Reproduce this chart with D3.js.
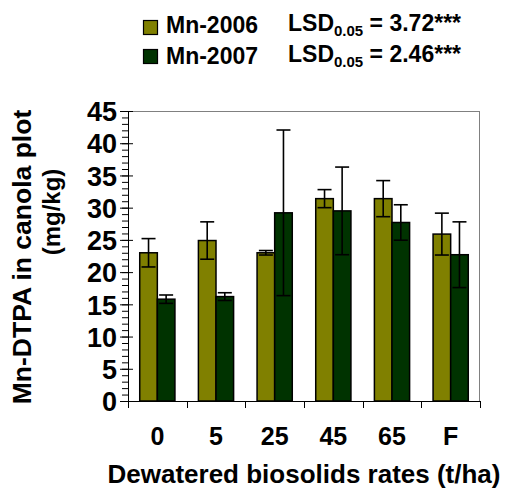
<!DOCTYPE html>
<html>
<head>
<meta charset="utf-8">
<script src="https://cdn.jsdelivr.net/npm/d3@7"></script>
<style>
  html, body { margin: 0; padding: 0; background: #fff; }
  svg { display: block; font-family: "Liberation Sans", Arial, Helvetica, sans-serif; font-weight: bold; }
</style>
</head>
<body>
<svg id="chart" width="506" height="494"></svg>
<script>
// Mn-DTPA in canola plot soil by biosolids rate, two seasons
const categories = ["0", "5", "25", "45", "65", "F"];
const seriesNames = ["Mn-2006", "Mn-2007"];
const mn2006 = [23.0, 24.9, 23.0, 31.4, 31.4, 25.9];
const mn2006Err = [2.2, 2.9, 0.35, 1.4, 2.8, 3.25];
const mn2007 = [15.8, 16.2, 29.2, 29.5, 27.7, 22.7];
const mn2007Err = [0.65, 0.6, 12.85, 6.8, 2.75, 5.1];
const lsdLabels = ["3.72***", "2.46***"];
const yTicks = [0, 5, 10, 15, 20, 25, 30, 35, 40, 45];
const colors = ["#808000", "#003300"];

const svg = d3.select("#chart");
const plot = { left: 128, right: 480, top: 111, bottom: 401 };

const x0 = d3.scaleBand().domain(categories).range([plot.left, plot.right]).padding(0);
const barW = x0.bandwidth() * 0.3;
const x1 = d3.scaleBand().domain(seriesNames)
  .range([(x0.bandwidth() - 2 * barW) / 2, (x0.bandwidth() + 2 * barW) / 2]).padding(0);
const y = d3.scaleLinear().domain([0, 45]).range([plot.bottom, plot.top]);

const rows = categories.map((c, i) => ({
  cat: c,
  vals: [
    { s: seriesNames[0], v: mn2006[i], e: mn2006Err[i], col: colors[0] },
    { s: seriesNames[1], v: mn2007[i], e: mn2007Err[i], col: colors[1] }
  ]
}));

// Plot frame: light top/right edges
svg.append("line").attr("x1", plot.left).attr("x2", plot.right)
  .attr("y1", plot.top + 0.5).attr("y2", plot.top + 0.5)
  .attr("stroke", "#808080").attr("stroke-width", 1);
svg.append("line").attr("x1", plot.right - 0.5).attr("x2", plot.right - 0.5)
  .attr("y1", plot.top).attr("y2", plot.bottom)
  .attr("stroke", "#808080").attr("stroke-width", 1);

// Bars
const groups = svg.append("g").selectAll("g").data(rows).join("g")
  .attr("transform", d => `translate(${x0(d.cat)},0)`);

groups.selectAll("rect").data(d => d.vals).join("rect")
  .attr("x", d => x1(d.s))
  .attr("y", d => y(d.v))
  .attr("width", x1.bandwidth())
  .attr("height", d => y(0) - y(d.v))
  .attr("fill", d => d.col)
  .attr("stroke", "#000")
  .attr("stroke-width", 1.5);

// Error bars
const capHalf = 7;
const eb = groups.selectAll("g.err").data(d => d.vals).join("g").attr("class", "err")
  .attr("stroke", "#000").attr("stroke-width", 1.6);
eb.append("line")
  .attr("x1", d => x1(d.s) + x1.bandwidth() / 2).attr("x2", d => x1(d.s) + x1.bandwidth() / 2)
  .attr("y1", d => y(d.v + d.e)).attr("y2", d => y(d.v - d.e));
eb.append("line")
  .attr("x1", d => x1(d.s) + x1.bandwidth() / 2 - capHalf).attr("x2", d => x1(d.s) + x1.bandwidth() / 2 + capHalf)
  .attr("y1", d => y(d.v + d.e)).attr("y2", d => y(d.v + d.e));
eb.append("line")
  .attr("x1", d => x1(d.s) + x1.bandwidth() / 2 - capHalf).attr("x2", d => x1(d.s) + x1.bandwidth() / 2 + capHalf)
  .attr("y1", d => y(d.v - d.e)).attr("y2", d => y(d.v - d.e));

// Y axis: minor ticks every unit, major ticks crossing the axis
const yMinor = d3.axisLeft(y).tickValues(d3.range(0, 46, 1)).tickSize(6).tickFormat("");
const gMinor = svg.append("g").attr("transform", `translate(${plot.left},0)`).call(yMinor);
gMinor.select(".domain").remove();
gMinor.selectAll("line").attr("stroke", "#000");

const yAxis = d3.axisLeft(y).tickValues(yTicks).tickSizeInner(8).tickSizeOuter(0).tickPadding(3);
const gY = svg.append("g").attr("transform", `translate(${plot.left},0)`).call(yAxis);
gY.select(".domain").attr("stroke", "#000");
gY.selectAll(".tick line").attr("x2", 5).attr("x1", -8).attr("stroke", "#000");
gY.selectAll(".tick text").attr("x", -11).attr("dy", "0.36em")
  .style("font-size", "27px").style("font-family", "Liberation Sans, Arial, sans-serif")
  .style("font-weight", "bold").attr("fill", "#000");

// X axis: ticks at category boundaries
const xAxis = d3.axisBottom(x0).tickSize(0).tickPadding(26);
const gX = svg.append("g").attr("transform", `translate(0,${plot.bottom})`).call(xAxis);
gX.select(".domain").attr("stroke", "#000");
gX.selectAll(".tick text")
  .style("font-size", "25px").style("font-family", "Liberation Sans, Arial, sans-serif")
  .style("font-weight", "bold").attr("fill", "#000");
const boundaries = categories.map(c => x0(c)).concat([plot.right]);
svg.append("g").selectAll("line").data(boundaries).join("line")
  .attr("x1", d => Math.round(d) + 0.5).attr("x2", d => Math.round(d) + 0.5)
  .attr("y1", plot.bottom).attr("y2", plot.bottom + 7)
  .attr("stroke", "#000");

// Axis titles
svg.append("text")
  .attr("x", (plot.left + plot.right) / 2).attr("y", 483)
  .attr("text-anchor", "middle").style("font-size", "26px")
  .text("Dewatered biosolids rates (t/ha)");

svg.append("text")
  .attr("transform", "translate(31,257) rotate(-90)")
  .attr("text-anchor", "middle").style("font-size", "26.5px")
  .text("Mn-DTPA in canola plot");
svg.append("text")
  .attr("transform", "translate(60,212) rotate(-90)")
  .attr("text-anchor", "middle").style("font-size", "24px")
  .text("(mg/kg)");

// Legend with LSD values
const legend = svg.append("g");
const legendRows = seriesNames.map((s, i) => ({ s, col: colors[i], lsd: lsdLabels[i], i }));
const rowY = [33, 64];
const boxY = [20.5, 49.5];
const lg = legend.selectAll("g").data(legendRows).join("g");
lg.append("rect")
  .attr("x", 143.5).attr("y", d => boxY[d.i])
  .attr("width", 14).attr("height", 14)
  .attr("fill", d => d.col).attr("stroke", "#000").attr("stroke-width", 1.2);
lg.append("text")
  .attr("x", 166).attr("y", d => rowY[d.i])
  .style("font-size", "23px")
  .text(d => d.s);
const lsdText = lg.append("text")
  .attr("x", 288).attr("y", d => rowY[d.i] - 2)
  .style("font-size", "23px");
lsdText.append("tspan").text("LSD");
lsdText.append("tspan").attr("dy", 5).style("font-size", "15px").text("0.05");
lsdText.append("tspan").attr("dy", -5).text(d => " = " + d.lsd);
</script>
</body>
</html>
